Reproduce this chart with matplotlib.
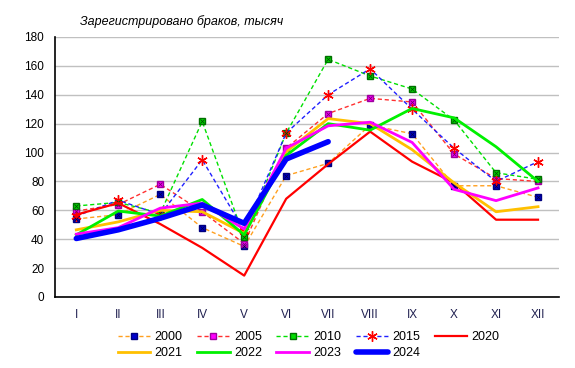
import matplotlib
matplotlib.use("Agg")
import matplotlib.pyplot as plt

plt.rcParams['font.family'] = ['Liberation Sans', 'DejaVu Sans']

months = ['I', 'II', 'III', 'IV', 'V', 'VI', 'VII', 'VIII', 'IX', 'X', 'XI', 'XII']

# thousands of registered marriages by month
y2000 = [54, 57, 71, 48, 35, 84, 92.5, 119, 113, 77, 77, 69]
y2005 = [59.5, 64, 78, 59, 37, 103, 127, 137.5, 135, 99, 82, 80]
y2010 = [63, 65.5, 58, 121.5, 41.5, 113.5, 164.5, 153, 144, 122.5, 86, 81.5]
y2015 = [56, 67, 57, 95, 46, 113.5, 140, 158, 130, 103, 80, 93.7]
y2020 = [57, 65, 50.5, 34, 14.8, 68, 92, 114.5, 93.7, 79, 53.5, 53.5]
y2021 = [46.5, 52, 60, 59, 44, 100.5, 123.5, 120, 102, 79, 59, 62.5]
y2022 = [43, 59.5, 56, 67.5, 43, 98, 120, 115.5, 130.5, 124, 104, 80]
y2023 = [43.5, 48, 61.5, 65, 47, 103, 118.5, 121, 107, 74.5, 66.7, 75.5]
y2024 = [40.5, 46.5, 54.5, 63.7, 51, 95.5, 107.5]

x = list(range(1, 13))

fig = plt.figure(figsize=(5.75, 3.68), dpi=100)
ax = fig.add_axes([0.0962, 0.193, 0.876, 0.7065])

dash = (0, (3, 2))
h = {}
# dashed series with square/star markers
h['2000'], = ax.plot(x, y2000, color='#FFA020', lw=1, linestyle=dash, marker='s', ms=4.8,
                     mfc='#0000CC', mec='#000080', label='2000', zorder=3)
h['2005'], = ax.plot(x, y2005, color='#FF3030', lw=1, linestyle=dash, marker='s', ms=4.8,
                     mfc='#FF00FF', mec='#A000A0', label='2005', zorder=3)
h['2010'], = ax.plot(x, y2010, color='#00E000', lw=1, linestyle=dash, marker='s', ms=4.8,
                     mfc='#00DD00', mec='#007000', label='2010', zorder=3)
h['2015'], = ax.plot(x, y2015, color='#2020FF', lw=1, linestyle=dash, marker=(6, 2, 0), ms=7.5,
                     mec='#FF0000', mew=1, label='2015', zorder=3)
# small crosses inside the square markers
ax.plot(x, y2000, linestyle='none', marker='x', ms=3.2, mec='#000050', mew=0.6, zorder=3.1)
ax.plot(x, y2005, linestyle='none', marker='x', ms=3.2, mec='#700070', mew=0.6, zorder=3.1)
ax.plot(x, y2010, linestyle='none', marker='x', ms=3.2, mec='#005000', mew=0.6, zorder=3.1)

# solid series
h['2020'], = ax.plot(x, y2020, color='#FF0000', lw=1.6, label='2020', zorder=4)
h['2021'], = ax.plot(x, y2021, color='#FFC000', lw=2, label='2021', zorder=4)
h['2022'], = ax.plot(x, y2022, color='#00F000', lw=2, label='2022', zorder=4)
h['2023'], = ax.plot(x, y2023, color='#FF00FF', lw=2, label='2023', zorder=4)
h['2024'], = ax.plot(x[:len(y2024)], y2024, color='#0000FF', lw=4, solid_capstyle='round',
                     label='2024', zorder=5)

ax.set_xlim(0.5, 12.5)
ax.set_ylim(0, 180)
ax.set_yticks(range(0, 181, 20))
ax.set_xticks(x)
ax.set_xticklabels(months, color='#202050')
ax.tick_params(axis='both', length=0, labelsize=8.5, pad=8)
ax.tick_params(axis='x', pad=9)
ax.grid(axis='y', color='#C0C0C0', lw=1)
ax.set_axisbelow(True)
for s in ['top', 'right']:
    ax.spines[s].set_visible(False)
ax.spines['left'].set_linewidth(1.2)
ax.spines['bottom'].set_linewidth(1.2)

fig.text(0.139, 0.942, 'Зарегистрировано браков, тысяч', fontsize=9,
         style='italic', ha='left', va='center')

# legend fills column by column, so order keys to read row by row
order = ['2000', '2021', '2005', '2022', '2010', '2023', '2015', '2024', '2020']
fig.legend([h[k] for k in order], order, loc='upper left', bbox_to_anchor=(0.205, 0.1),
           ncol=5, frameon=False, fontsize=9, handlelength=2.6, handletextpad=0.35,
           columnspacing=1.15, labelspacing=0.3, borderpad=0, borderaxespad=0)

fig.savefig('out.png', dpi=100)
